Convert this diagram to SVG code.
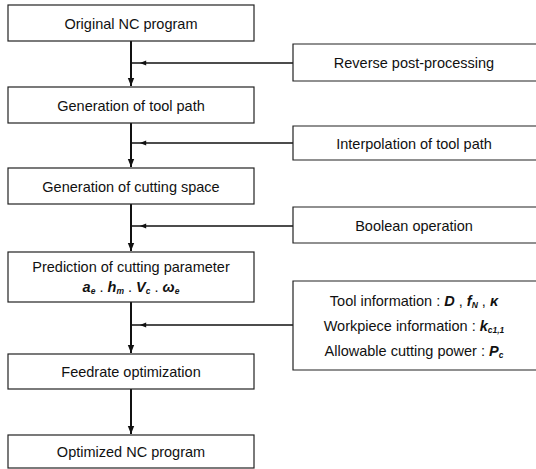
<svg xmlns="http://www.w3.org/2000/svg" width="536" height="469" viewBox="0 0 536 469">
<defs>
<marker id="ah" viewBox="0 0 10 10" refX="10" refY="5" markerWidth="4" markerHeight="4" orient="auto" markerUnits="strokeWidth">
<path d="M0,1 L10,5 L0,9 z" fill="#111"/>
</marker>
<marker id="ahm" viewBox="0 0 10 10" refX="5" refY="5" markerWidth="5" markerHeight="4" orient="auto" markerUnits="strokeWidth">
<path d="M0,1 L10,5 L0,9 z" fill="#111"/>
</marker>
</defs>
<style>
.box{fill:#fff;stroke:#222;stroke-width:1.2}
.t{font-family:"Liberation Sans",Arial,sans-serif;font-size:14.5px;fill:#111;text-anchor:middle}
.m{font-style:italic;font-weight:bold}
.s{font-size:8.5px;font-style:italic;font-weight:bold}
.v{fill:none;stroke:#111;stroke-width:2}
.h{fill:none;stroke:#111;stroke-width:1.6}
</style>
<rect width="536" height="469" fill="#fff"/>
<g id="connectors">
<path class="v" d="M131,41 V86" marker-end="url(#ah)"/>
<path class="v" d="M131,123 V167" marker-end="url(#ah)"/>
<path class="v" d="M131,204 V251" marker-end="url(#ah)"/>
<path class="v" d="M131,302 V353" marker-end="url(#ah)"/>
<path class="v" d="M131,389 V434" marker-end="url(#ah)"/>
<path class="h" d="M293,63 H143 H132" marker-mid="url(#ahm)"/>
<path class="h" d="M293,143 H143 H132" marker-mid="url(#ahm)"/>
<path class="h" d="M293,226 H143 H132" marker-mid="url(#ahm)"/>
<path class="h" d="M293,325 H143 H132" marker-mid="url(#ahm)"/>
</g>
<g id="original-nc">
<rect class="box" x="8" y="5" width="246" height="36"/>
<text class="t" x="131" y="28.5">Original NC program</text>
</g>
<g id="tool-path">
<rect class="box" x="8" y="87" width="246" height="36"/>
<text class="t" x="131" y="110.5">Generation of tool path</text>
</g>
<g id="cutting-space">
<rect class="box" x="8" y="168" width="246" height="36"/>
<text class="t" x="131" y="191.5">Generation of cutting space</text>
</g>
<g id="prediction">
<rect class="box" x="8" y="252" width="246" height="50"/>
<text class="t" x="131" y="272">Prediction of cutting parameter</text>
<text class="t" x="131" y="292"><tspan class="m">a</tspan><tspan class="s" dy="2">e</tspan><tspan dy="-2"> .  </tspan><tspan class="m">h</tspan><tspan class="s" dy="2">m</tspan><tspan dy="-2"> .  </tspan><tspan class="m">V</tspan><tspan class="s" dy="2">c</tspan><tspan dy="-2"> .  </tspan><tspan class="m">ω</tspan><tspan class="s" dy="2">e</tspan></text>
</g>
<g id="feedrate">
<rect class="box" x="8" y="354" width="246" height="35"/>
<text class="t" x="131" y="376.5">Feedrate optimization</text>
</g>
<g id="optimized-nc">
<rect class="box" x="8" y="435" width="246" height="33"/>
<text class="t" x="131" y="456.5">Optimized NC program</text>
</g>
<g id="reverse-post">
<path class="box" d="M540,44 H293 V81 H540"/>
<text class="t" x="414" y="67.5">Reverse post-processing</text>
</g>
<g id="interpolation">
<path class="box" d="M540,126 H293 V160 H540"/>
<text class="t" x="414" y="148.5">Interpolation of tool path</text>
</g>
<g id="boolean">
<path class="box" d="M540,207 H293 V243 H540"/>
<text class="t" x="414" y="230.5">Boolean operation</text>
</g>
<g id="inputs">
<path class="box" d="M540,281 H293 V370 H540"/>
<text class="t" x="414" y="306">Tool information : <tspan class="m">D</tspan> , <tspan class="m">f</tspan><tspan class="s" dy="2">N</tspan><tspan dy="-2"> , </tspan><tspan class="m">κ</tspan></text>
<text class="t" x="414" y="331">Workpiece information : <tspan class="m">k</tspan><tspan class="s" dy="2">c1,1</tspan></text>
<text class="t" x="414" y="356">Allowable cutting power : <tspan class="m">P</tspan><tspan class="s" dy="2">c</tspan></text>
</g>
</svg>
